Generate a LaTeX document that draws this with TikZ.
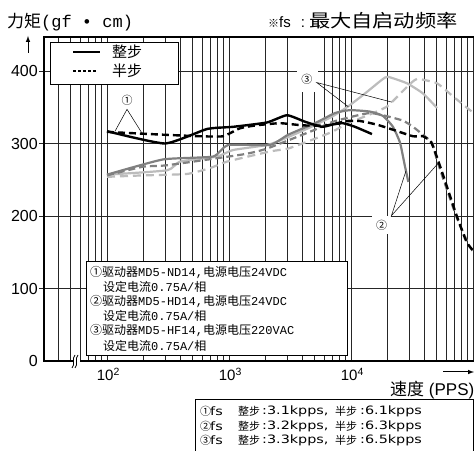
\documentclass[tikz,border=0pt]{standalone}
\usepackage{fontspec}
\usepackage{graphicx}
\setmainfont{Liberation Sans}
\newfontfamily\cjk{Noto Sans CJK SC}
\newfontfamily\mono{Liberation Mono}
\newfontfamily\dejavu{DejaVu Sans}
\newcommand\fsz[1]{\fontsize{#1}{#1}\selectfont}
\newcommand\lat[1]{{\mono\fsz{12}#1}}
\newcommand\wide[1]{{\dejavu\fsz{11.5}\scalebox{1.25}[1]{#1}}}
\definecolor{gray2}{RGB}{128,128,128}
\definecolor{gray3}{RGB}{188,188,188}

\tikzset{
  gridline/.style={line width=0.7pt, black!85},
  full1/.style={line width=2.4pt, black},
  half1/.style={line width=2.4pt, black, dash pattern=on 7pt off 4pt},
  full2/.style={line width=2.2pt, gray2},
  half2/.style={line width=2.2pt, gray2, dash pattern=on 7pt off 4pt},
  full3/.style={line width=2.2pt, gray3},
  half3/.style={line width=2.2pt, gray3, dash pattern=on 8pt off 5pt},
  leader/.style={line width=0.5pt, black},
  tag/.style={fill=white, inner sep=4pt, font=\cjk\fsz{11}},
  txt/.style={anchor=west, inner sep=0pt},
}

\begin{document}
\begin{tikzpicture}[x=1pt, y=1pt]
\useasboundingbox (0,0) rectangle (474,450);
\clip (0,0) rectangle (474,450);
\fill[white] (0,0) rectangle (474,450);

% Plot: x in decades above 10^2, y in gf cm
\begin{scope}[shift={(107pt,89pt)}, x=122pt, y=0.725pt]

% Grid
\foreach \t in {100,200,300,400}
    \draw[gridline] (-0.557,\t) -- (3.1,\t);
\foreach \m in {4,...,9}
    \draw[gridline] ({log10(\m)-1},0) -- ({log10(\m)-1},447);
\foreach \d in {0,1,2}
    \foreach \m in {1,...,9}
        \draw[gridline] ({\d+log10(\m)},0) -- ({\d+log10(\m)},447);
\draw[gridline] (3,0) -- (3,447);
% column left blank above label 3
\fill[white] (1.57,371) rectangle (1.73,446);

% Frame and axis
\draw[line width=1.2pt] (3.1,447) -- (-0.516,447) -- (-0.516,0) -- (-0.279,0);
\draw[line width=1.6pt] (-0.221,0) -- (3.1,0);

% Tick labels
\foreach \t in {0,100,200,300,400}
    \node[anchor=east, inner sep=0pt, font=\fsz{16}] (t\t) at (-0.566,\t) {\t};
\foreach \d in {0,1,2} {
    \pgfmathtruncatemacro\e{\d+2}
    \node[anchor=base west, inner sep=0pt, font=\fsz{15}] (x\e) at ({\d-0.085},-27) {10\textsuperscript{\e}};
}

% Curves 3 (light gray)
\draw[half3] plot[smooth, tension=0.3] coordinates {(0,254) (0.295,256) (0.656,258) (0.844,266) (0.984,275) (1.336,289) (1.484,293) (1.68,305) (1.844,316) (1.975,328) (2.139,339) (2.295,351) (2.459,378) (2.541,389) (2.705,383) (2.836,365) (2.975,346) (3.05,337)};
\draw[full3] plot[smooth, tension=0.3] coordinates {(0,257) (0.492,263) (0.598,275) (0.902,282) (1.033,291) (1.336,299) (1.623,319) (1.844,337) (1.975,351) (2.115,369) (2.254,388) (2.303,392) (2.459,383) (2.59,369) (2.705,349)};

% Curves 2 (dark gray)
\draw[half2] plot[smooth, tension=0.3] coordinates {(0,256) (0.295,268) (0.492,270) (1.115,285) (1.311,293) (1.705,319) (1.852,330) (2.156,342) (2.418,332) (2.508,323) (2.59,312) (2.664,301) (2.705,277) (2.787,236) (2.869,197) (2.975,157) (3.05,143)};
\draw[full2] plot[smooth, tension=0.3] coordinates {(0,257) (0.459,278) (0.869,282) (0.992,298) (1.336,298) (1.484,312) (1.705,328) (1.869,342) (1.992,346) (2.156,344) (2.262,338) (2.344,323) (2.402,301) (2.443,268) (2.47,247)};

% Curves 1 (black)
\draw[half1] plot[smooth, tension=0.3] coordinates {(0,316) (0.475,312) (0.762,310) (0.951,310) (1.09,321) (1.221,325) (1.418,328) (1.607,325) (1.803,325) (1.967,331) (2.074,331) (2.213,326) (2.344,319) (2.508,310) (2.59,310) (2.656,302) (2.705,281) (2.787,240) (2.869,199) (2.951,163) (3.05,143)};
\draw[full1] plot[smooth, tension=0.3] coordinates {(0,317) (0.475,300) (0.82,320) (1.033,323) (1.311,329) (1.475,339) (1.623,330) (1.762,323) (1.844,326) (1.934,328) (2.033,323) (2.172,313)};

% Curve labels
\node[tag] (c1) at (0.164,360) {①};
\coordinate (p1a) at (0.066,317);
\coordinate (p1b) at (0.284,315);
\draw[leader] (p1a) -- (c1.south) -- (p1b);

\node[tag] (c2) at (2.252,187.6) {②};
\coordinate (p2a) at (2.45,262);
\coordinate (p2b) at (2.716,273);
\draw[leader] (p2a) -- (c2.north east) -- (p2b);

\node[tag] (c3) at (1.639,389) {③};
\coordinate (p3a) at (1.978,350.7);
\coordinate (p3b) at (2.336,357);
\draw[leader] (p3a) -- (c3.-20) -- (p3b);

\end{scope}

% Axis break
\draw[line width=0.8pt] (72,82) .. controls (76,86) and (71,91) .. (75,95);
\draw[line width=0.8pt] (75,82) .. controls (79,86) and (74,91) .. (78,95);

% Axis titles
\coordinate (yfoot) at (28,397);
\coordinate (ytip) at (28,414);
\draw[-latex, line width=1pt] (yfoot) -- (ytip);
\node[txt] (torque) at (7,428) {{\cjk\fsz{17}力矩}{\mono\fsz{17}(gf • cm)}};
\coordinate (xfoot) at (443,78);
\coordinate (xtip) at (474,78);
\draw[-latex, line width=1pt] (xfoot) -- (xtip);
\node[txt] (speed) at (390,60) {{\cjk\fsz{17}速度}\fsz{17} (PPS)};
\node[txt] (fsnote) at (268,429.5) {{\cjk\fsz{11}※}{\fsz{15}fs\hspace{10pt}:\hspace{4pt}}{\cjk\fsz{18}\scalebox{1.18}[1]{最大自启动频率}}};

% Legend: step modes
\draw[fill=white, line width=0.8pt] (50,408) rectangle (178,366);
\draw[full1] (73,398) -- (100,398);
\node[txt, font=\cjk\fsz{15}] (full) at (112,398) {整步};
\draw[line width=2.4pt, dash pattern=on 2.6pt off 2.4pt] (73,379) -- (97,379);
\node[txt, font=\cjk\fsz{15}] (half) at (112,379) {半步};

% Legend: drivers
\draw[fill=white, line width=0.8pt] (86,189) rectangle (347,95);
\node[txt, font=\cjk\fsz{12}] (d1) at (90,178) {①驱动器\lat{MD5-ND14,}电源电压\lat{24VDC}};
\node[txt, font=\cjk\fsz{12}] (i1) at (103,163.3) {设定电流\lat{0.75A/}相};
\node[txt, font=\cjk\fsz{12}] (d2) at (90,148.6) {②驱动器\lat{MD5-HD14,}电源电压\lat{24VDC}};
\node[txt, font=\cjk\fsz{12}] (i2) at (103,134) {设定电流\lat{0.75A/}相};
\node[txt, font=\cjk\fsz{12}] (d3) at (90,119.2) {③驱动器\lat{MD5-HF14,}电源电压\lat{220VAC}};
\node[txt, font=\cjk\fsz{12}] (i3) at (103,104.5) {设定电流\lat{0.75A/}相};

% Table of fs
\draw[fill=white, line width=0.8pt] (195,50.5) rectangle (473,-5);
\foreach \n/\y/\a/\b in {①/39/3.1/6.1, ②/24/3.2/6.3, ③/10/3.3/6.5} {
    \node[txt, font=\cjk\fsz{11}] (n\y) at (200,\y) {\n};
    \node[txt] (f\y) at (210,\y) {\wide{fs}};
    \node[txt, font=\cjk\fsz{11}] (z\y) at (238,\y) {整步};
    \node[txt] (a\y) at (262,\y) {\wide{:\a kpps,}};
    \node[txt, font=\cjk\fsz{11}] (h\y) at (335,\y) {半步};
    \node[txt] (b\y) at (360,\y) {\wide{:\b kpps}};
}

\end{tikzpicture}
\end{document}
